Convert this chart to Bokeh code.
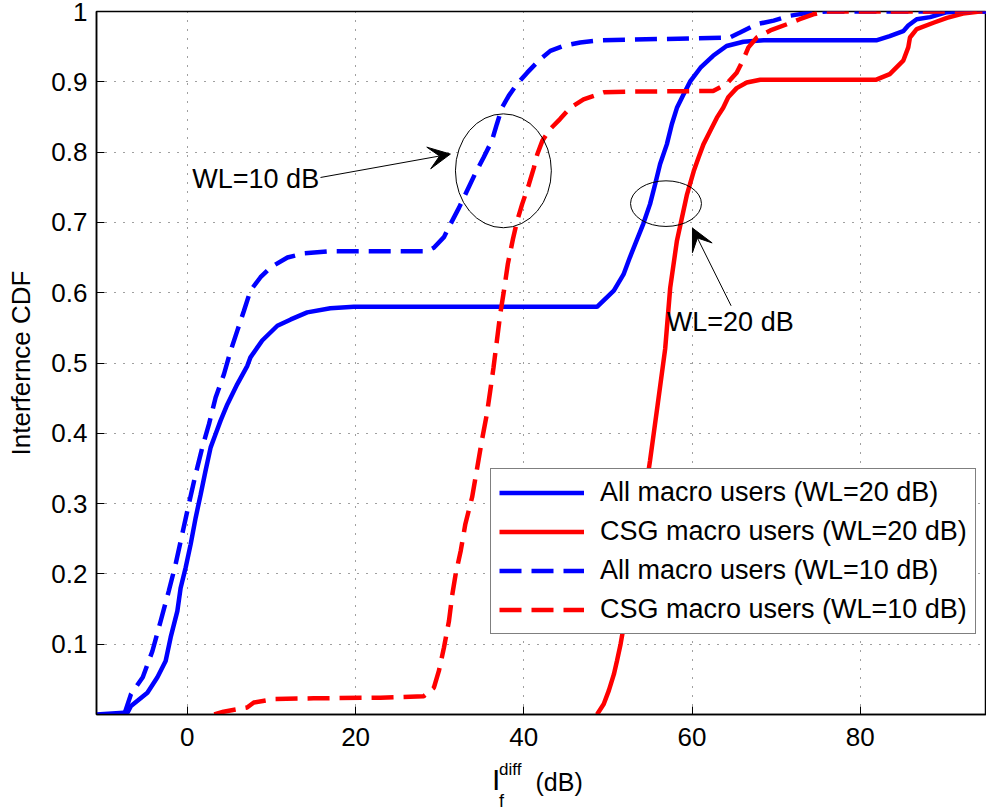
from bokeh.plotting import figure
from bokeh.layouts import column
from bokeh.models import Range1d, FixedTicker, Legend, LegendItem, Label, Arrow, VeeHead
from bokeh.core.properties import value
from bokeh.embed import file_html
from bokeh.resources import INLINE

# ---------------- data ----------------
all20_x = [-10.8, -7.1, -6.7, -4.75, -3.56, -2.58, -1.98, -1.19, -0.8, -0.2, 0.39, 0.99, 1.58, 2.17,
           2.77, 3.36, 3.95, 4.75, 5.94, 7.13, 7.5, 8.9, 10.7, 12.3, 14.25, 17.0, 19.8, 48.7, 50.7,
           51.85, 52.6, 53.4, 54.2, 55.0, 55.6, 56.2, 57.0, 57.6, 58.2, 58.98, 59.8, 61.0, 62.5,
           64.1, 66.1, 68.5, 81.9, 83.5, 85.1, 85.7, 86.7, 88.3, 90.3, 92.3, 95.0]
all20_y = [0.0, 0.003, 0.012, 0.031, 0.053, 0.076, 0.11, 0.147, 0.18, 0.209, 0.242, 0.28, 0.313, 0.347,
           0.38, 0.399, 0.418, 0.441, 0.47, 0.496, 0.508, 0.532, 0.553, 0.562, 0.572, 0.578, 0.58, 0.58,
           0.603, 0.626, 0.65, 0.674, 0.698, 0.726, 0.754, 0.783, 0.811, 0.84, 0.863, 0.882, 0.901,
           0.92, 0.937, 0.951, 0.957, 0.959, 0.959, 0.965, 0.972, 0.98, 0.989, 0.992, 0.999, 1.0, 1.0]

csg20_x = [48.7, 49.5, 50.1, 50.7, 51.07, 51.5, 51.85, 53.5, 55.0, 55.9, 56.8, 57.4, 58.2, 58.8, 59.4,
           60.2, 60.76, 61.35, 62.15, 62.95, 63.7, 64.3, 65.3, 66.5, 68.1, 81.9, 83.5, 85.1, 85.7,
           85.9, 86.7, 88.7, 90.3, 92.2, 94.2, 95.0]
csg20_y = [0.0, 0.015, 0.034, 0.057, 0.076, 0.1, 0.124, 0.24, 0.361, 0.44, 0.52, 0.607, 0.674, 0.707,
           0.74, 0.773, 0.792, 0.811, 0.83, 0.849, 0.863, 0.878, 0.891, 0.899, 0.903, 0.903, 0.911,
           0.93, 0.949, 0.963, 0.975, 0.984, 0.991, 0.997, 1.0, 1.0]

all10_x = [-7.5, -6.7, -5.3, -4.16, -3.17, -2.2, -1.39, -0.6, 0.19, 0.99, 1.78, 2.57, 3.36, 4.35, 5.14,
           5.94, 6.72, 7.5, 8.7, 9.9, 11.9, 13.85, 17.0, 28.5, 29.3, 30.5, 31.3, 32.3, 33.25, 34.2,
           35.2, 36.2, 36.8, 37.4, 38.2, 39.2, 40.4, 41.76, 43.15, 44.7, 46.7, 49.1, 64.5, 65.7,
           67.7, 69.7, 71.65, 73.2, 76.0, 95.0]
all10_y = [0.0, 0.029, 0.053, 0.09, 0.133, 0.176, 0.214, 0.257, 0.3, 0.342, 0.38, 0.413, 0.451, 0.484,
           0.517, 0.546, 0.574, 0.603, 0.622, 0.636, 0.65, 0.656, 0.659, 0.659, 0.664, 0.679, 0.698,
           0.721, 0.745, 0.769, 0.792, 0.816, 0.84, 0.863, 0.88, 0.897, 0.913, 0.93, 0.944, 0.951,
           0.956, 0.959, 0.963, 0.97, 0.982, 0.987, 0.994, 0.997, 1.0, 1.0]

csg10_x = [3.2, 4.3, 7.1, 7.9, 10.3, 15.0, 22.96, 28.1, 29.3, 29.9, 30.5, 31.1, 31.5, 31.9, 32.5,
           33.05, 33.85, 34.4, 35.0, 35.6, 36.0, 36.4, 36.8, 37.2, 37.6, 38.1, 38.7, 39.2, 39.8,
           40.6, 41.2, 41.6, 42.2, 43.15, 44.3, 45.5, 47.1, 49.5, 52.6, 62.5, 64.1, 65.3, 66.1,
           66.7, 67.7, 69.3, 71.3, 72.8, 74.4, 76.0, 95.0]
csg10_y = [0.0, 0.004, 0.01, 0.017, 0.022, 0.023, 0.024, 0.026, 0.038, 0.062, 0.095, 0.133, 0.171,
           0.2, 0.233, 0.271, 0.309, 0.347, 0.389, 0.427, 0.46, 0.494, 0.532, 0.57, 0.6, 0.641,
           0.676, 0.702, 0.726, 0.754, 0.778, 0.797, 0.816, 0.833, 0.847, 0.863, 0.875, 0.885,
           0.886, 0.887, 0.897, 0.913, 0.932, 0.949, 0.963, 0.973, 0.982, 0.989, 0.996, 1.0, 1.0]

series_labels = ["All macro users (WL=20 dB)", "CSG macro users (WL=20 dB)",
                 "All macro users (WL=10 dB)", "CSG macro users (WL=10 dB)"]

x_ticks = [0, 20, 40, 60, 80]
y_ticks = [0.1, 0.2, 0.3, 0.4, 0.5, 0.6, 0.7, 0.8, 0.9, 1.0]
y_tick_labels = ["0.1", "0.2", "0.3", "0.4", "0.5", "0.6", "0.7", "0.8", "0.9", "1"]

# annotation shapes (data coordinates)
ell_x = [37.57, 56.9]
ell_y = [0.7734, 0.7267]
ell_w = [11.4, 8.43]
ell_h = [0.162, 0.065]

FONT = "Liberation Sans"
W = 986
LEFT = 96

# ---------------- main figure ----------------
p = figure(width=W, height=760, x_range=Range1d(-10.8, 95.0), y_range=Range1d(0, 1),
           output_backend="svg", toolbar_location=None, title=None,
           min_border_left=LEFT, min_border_right=0, min_border_top=11, min_border_bottom=46)
p.background_fill_color = "white"
p.border_fill_color = "white"
p.outline_line_color = "black"
p.outline_line_width = 1.5

p.xaxis.ticker = FixedTicker(ticks=x_ticks)
p.yaxis.ticker = FixedTicker(ticks=y_ticks)
p.yaxis.major_label_overrides = dict(zip(y_ticks, y_tick_labels))
for ax in (p.xaxis, p.yaxis):
    ax.axis_line_width = 1.5
    ax.axis_line_color = "black"
    ax.major_tick_in = 8
    ax.major_tick_out = 0
    ax.major_tick_line_color = "black"
    ax.minor_tick_line_color = None
    ax.major_label_text_font = FONT
    ax.major_label_text_font_size = "26px"
    ax.major_label_text_color = "black"
p.xaxis.major_label_standoff = 13
p.yaxis.major_label_standoff = 9
p.yaxis.axis_label = "Interfernce CDF"
p.yaxis.axis_label_text_font = FONT
p.yaxis.axis_label_text_font_size = "26px"
p.yaxis.axis_label_text_font_style = "normal"
p.yaxis.axis_label_text_color = "black"
p.yaxis.axis_label_standoff = 12

p.grid.grid_line_color = "black"
p.grid.grid_line_alpha = 0.75
p.grid.grid_line_dash = "1 8"
p.grid.grid_line_width = 1

LW = 4.5
DASH = "22 10"
r1 = p.line(all20_x, all20_y, line_color="#0000FF", line_width=LW)
r2 = p.line(csg20_x, csg20_y, line_color="#FF0000", line_width=LW)
r3 = p.line(all10_x, all10_y, line_color="#0000FF", line_width=LW, line_dash=DASH)
r4 = p.line(csg10_x, csg10_y, line_color="#FF0000", line_width=LW, line_dash=DASH)

p.ellipse(x=ell_x, y=ell_y, width=ell_w, height=ell_h, fill_color=None,
          line_color="black", line_width=1)

p.add_layout(Arrow(end=VeeHead(size=22, fill_color="black", line_color="black", line_width=1),
                   x_start=15.83, y_start=0.7639, x_end=31.27, y_end=0.7972,
                   line_color="black", line_width=1))
p.add_layout(Arrow(end=VeeHead(size=22, fill_color="black", line_color="black", line_width=1),
                   x_start=64.64, y_start=0.5814, x_end=60.05, y_end=0.6919,
                   line_color="black", line_width=1))

for (lx, ly, txt) in [(0.59, 0.7616, "WL=10 dB"), (57.0, 0.5583, "WL=20 dB")]:
    p.add_layout(Label(x=lx, y=ly, text=txt, text_font=FONT, text_font_size="27px",
                       text_color="black", text_baseline="middle", text_align="left"))

legend = Legend(items=[LegendItem(label=series_labels[0], renderers=[r1]),
                       LegendItem(label=series_labels[1], renderers=[r2]),
                       LegendItem(label=series_labels[2], renderers=[r3]),
                       LegendItem(label=series_labels[3], renderers=[r4])],
                location=(394, 80))
legend.border_line_color = "black"
legend.border_line_width = 1.5
legend.background_fill_color = "white"
legend.background_fill_alpha = 1
legend.label_text_font = FONT
legend.label_text_font_size = "27px"
legend.label_text_color = "black"
legend.glyph_width = 85
legend.glyph_height = 27
legend.label_height = 27
legend.label_standoff = 16
legend.padding = 8
legend.spacing = 8
legend.margin = 0
p.add_layout(legend)

# ---------------- x-axis label strip: I_f^diff (dB) ----------------
# this strip's coordinates are page pixels (x to the right, y downward)
q = figure(width=W, height=50, x_range=Range1d(LEFT, W), y_range=Range1d(810, 760),
           x_axis_type=None, y_axis_type=None, output_backend="svg", toolbar_location=None,
           title=None, min_border_left=LEFT, min_border_right=0, min_border_top=0,
           min_border_bottom=0, outline_line_color=None)
q.background_fill_color = "white"
q.border_fill_color = "white"
for (tx, ty, txt, size) in [(491.5, 779, "I", "30px"), (498.5, 768.5, "diff", "17px"),
                            (498.5, 800, "f", "18px"), (535, 781.5, "(dB)", "25px")]:
    q.text(x=[tx], y=[ty], text=[txt], text_font=value(FONT), text_font_size=value(size),
           text_color="black", text_baseline="middle", text_align="left")

layout = column(p, q, spacing=0)
open("out.html", "w").write(file_html(layout, INLINE))
